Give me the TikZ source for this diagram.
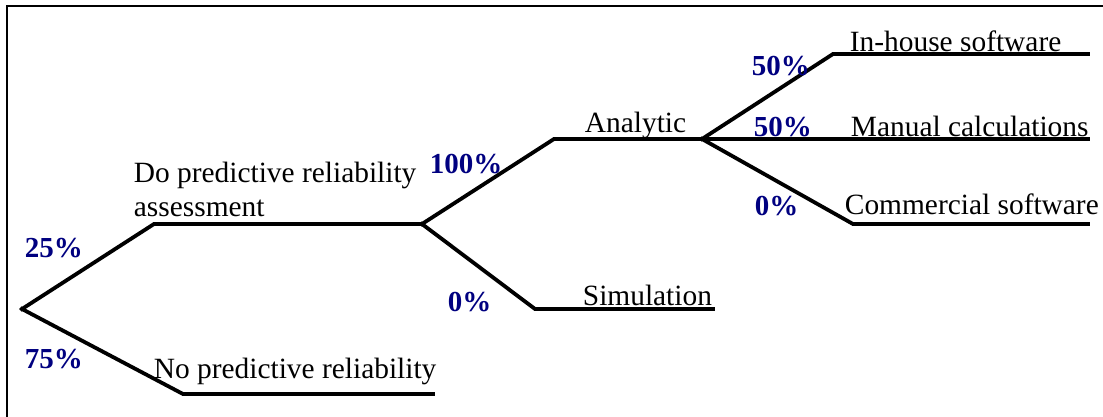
\documentclass[tikz,border=0pt]{standalone}
\usepackage{fontspec}
\setmainfont{Liberation Serif}
\usepackage{tikz}
\usetikzlibrary{positioning}

\definecolor{pctblue}{RGB}{0,0,128}

\begin{document}
\begin{tikzpicture}[x=0.5pt,y=-0.5pt,line width=1.9pt,
        branch/.style={draw,line cap=rect},
        txt/.style={inner sep=0pt,anchor=base west,font=\fontsize{14.7}{16.5}\selectfont},
        pct/.style={txt,text=pctblue,font=\fontsize{14.5}{16}\selectfont\bfseries}]

    \useasboundingbox (0,0) rectangle (1103,417);
    % frame
    \draw[line width=1.1pt] (7,417) -- (7,6) -- (1103,6);

    % branch points
    \coordinate (root) at (22,309);
    \coordinate (do) at (154,224);
    \coordinate (doend) at (422,224);
    \coordinate (no) at (183,394);
    \coordinate (noend) at (433,394);
    \coordinate (ana) at (554,139);
    \coordinate (anaend) at (702,139);
    \coordinate (sim) at (535,309);
    \coordinate (simend) at (713,309);
    \coordinate (inh) at (833,54);
    \coordinate (inhend) at (1088,54);
    \coordinate (manend) at (1088,139);
    \coordinate (com) at (853,224);
    \coordinate (comend) at (1088,224);

    \draw[branch] (root) -- (do) -- (doend);
    \draw[branch] (root) -- (no) -- (noend);
    \draw[branch] (doend) -- (ana) -- (anaend);
    \draw[branch] (doend) -- (sim) -- (simend);
    \draw[branch] (anaend) -- (inh) -- (inhend);
    \draw[branch] (anaend) -- (manend);
    \draw[branch] (anaend) -- (com) -- (comend);

    % outcomes
    \node[txt] (dotxt) at (132,183) {Do predictive reliability};
    \node[txt] (dotxt2) at (132,216) {assessment};
    \node[txt] (notxt) at (152,378) {No predictive reliability};
    \node[txt] (anatxt) at (583,133) {Analytic};
    \node[txt] (simtxt) at (581,305) {Simulation};
    \node[txt] (inhtxt) at (848,52) {In-house software};
    \node[txt] (mantxt) at (849,137) {Manual calculations};
    \node[txt] (comtxt) at (843,214) {Commercial software};

    % probabilities
    \node[pct] (p25) at (23,257) {25\%};
    \node[pct] (p75) at (23,368) {75\%};
    \node[pct] (p100) at (428,173) {100\%};
    \node[pct] (p0sim) at (446,311) {0\%};
    \node[pct] (p50a) at (750,76) {50\%};
    \node[pct] (p50b) at (752,137) {50\%};
    \node[pct] (p0com) at (753,215) {0\%};

\end{tikzpicture}
\end{document}
